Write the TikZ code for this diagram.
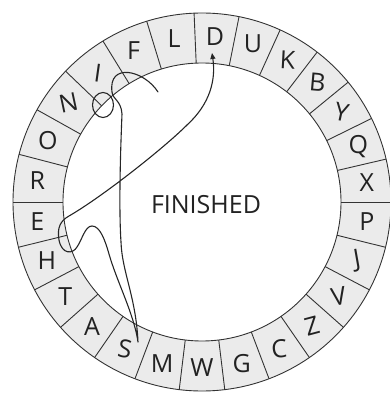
\documentclass[tikz,border=0pt]{standalone}
\usepackage{fontspec}
\setmainfont{Open Sans}
\usetikzlibrary{arrows.meta}
\definecolor{cring}{HTML}{EBEBEB}
\definecolor{cline}{HTML}{333333}
\definecolor{ctext}{HTML}{222222}
\tikzset{
  every picture/.style={x=1pt, y=1pt, line width=0.9pt},
  ringline/.style={draw=cline, line width=0.9pt},
  letter/.style={text=ctext, font=\fontsize{25}{30}\selectfont, inner sep=0pt},
  trace/.style={draw=black!85, line width=1.1pt, line join=round, line cap=round},
  tracearrow/.style={trace, -{Triangle[length=6pt, width=5pt]}},
}

\begin{document}
\begin{tikzpicture}
  \useasboundingbox (-202,-192) rectangle (187,202);
  % the letter ring
  \fill[cring, even odd rule] (0,0) circle (189) (0,0) circle (139);
  \draw[ringline] (0,0) circle (189);
  \draw[ringline] (0,0) circle (139);
  \foreach \a in {0,13.12,26.23,39.35,52.47,65.58,78.7,92.4,107,121.6,136.2,150.8,165.4,180,
                  -13.85,-27.69,-41.54,-55.38,-69.23,-83.08,-96.92,-110.77,-124.62,-138.46,-152.31,-166.15}
    \draw[ringline] (\a:139) -- (\a:189);
  \foreach \a/\t/\r in {6.56/X/0, 19.68/Q/0, 32.79/Y/-12, 45.91/B/-5, 59.03/K/-3, 72.14/U/0,
                        85.55/D/0, 99.7/L/0, 114.3/F/0, 128.9/I/-8, 143.5/N/12, 158.1/O/0, 172.7/R/0,
                        -6.92/P/0, -20.77/J/10, -34.62/V/10, -48.46/Z/15, -62.31/C/5, -76.15/G/0,
                        -90/W/0, -103.85/M/0, -117.69/S/-10, -131.54/A/0, -145.38/T/0, -159.23/H/0, -173.08/E/0}
    \node[letter, rotate=\r] (let-\t) at (\a:166) {\t};
  \node[letter] (title) at (4,-3) {FINISHED};
  % the traced word
  \draw[trace] (-99,97) ellipse [x radius=10.5, y radius=12.5];
  \draw[tracearrow] (-44,110) .. controls (-58,132) and (-94,140) .. (-90,110)
    .. controls (-89,102) and (-81,102) .. (-80,88)
    .. controls (-82,40) and (-83,-10) .. (-81,-40)
    .. controls (-80,-70) and (-66,-95) .. (-64,-140)
    .. controls (-68,-112) and (-85,-80) .. (-93,-52)
    .. controls (-97,-38) and (-102,-24) .. (-110,-24)
    .. controls (-117,-24) and (-120,-38) .. (-125,-45)
    .. controls (-129,-52) and (-140,-53) .. (-143,-38)
    .. controls (-145,-26) and (-142,-19) .. (-133,-14)
    .. controls (-100,5) and (-38,54) .. (-15,77)
    .. controls (8,98) and (14,122) .. (10,149);
\end{tikzpicture}
\end{document}
